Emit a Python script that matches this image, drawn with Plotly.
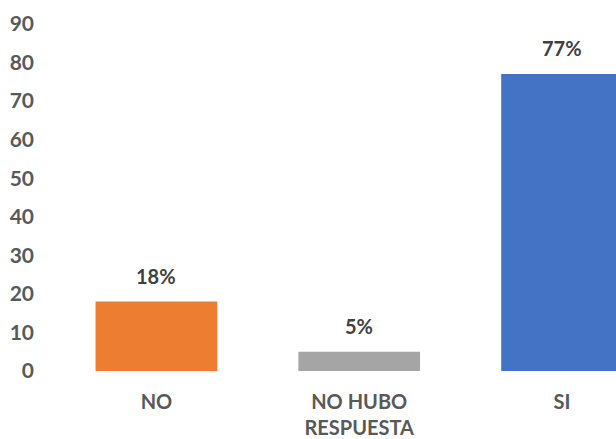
import plotly.graph_objects as go

# Survey answers and their share (%)
categories = ["NO", "NO HUBO<br>RESPUESTA", "SI"]
values = [18, 5, 77]
value_labels = ["18%", "5%", "77%"]
bar_colors = ["#ED7D31", "#A5A5A5", "#4472C4"]
y_ticks = [0, 10, 20, 30, 40, 50, 60, 70, 80, 90]

FONT = "Lato"

fig = go.Figure(
    go.Bar(
        x=categories,
        y=values,
        marker=dict(color=bar_colors, line=dict(width=0)),
        hoverinfo="skip",
    )
)

# value labels placed just above each bar
for cat, val, lab in zip(categories, values, value_labels):
    fig.add_annotation(
        x=cat, y=val, text=lab, showarrow=False,
        yanchor="bottom", yshift=12,
        font=dict(family=FONT, size=20, color="#404040", weight="bold"),
    )

fig.update_layout(
    width=616,
    height=439,
    margin=dict(l=55, r=0, t=24, b=66),
    paper_bgcolor="white",
    plot_bgcolor="white",
    bargap=0.4,
    showlegend=False,
    font=dict(family=FONT, size=20, color="#595959", weight="bold"),
)
fig.update_xaxes(
    range=[-0.5, 2.266],
    showgrid=False, showline=False, zeroline=False,
    ticks="", ticklabelstandoff=17,
    tickfont=dict(family=FONT, size=20, color="#595959", weight="bold"),
)
fig.update_yaxes(
    range=[0, 90],
    tickvals=y_ticks,
    showgrid=False, showline=False, zeroline=False,
    ticks="", ticklabelstandoff=20,
    tickfont=dict(family=FONT, size=21, color="#595959", weight="bold"),
)

fig.write_html("out.html")
